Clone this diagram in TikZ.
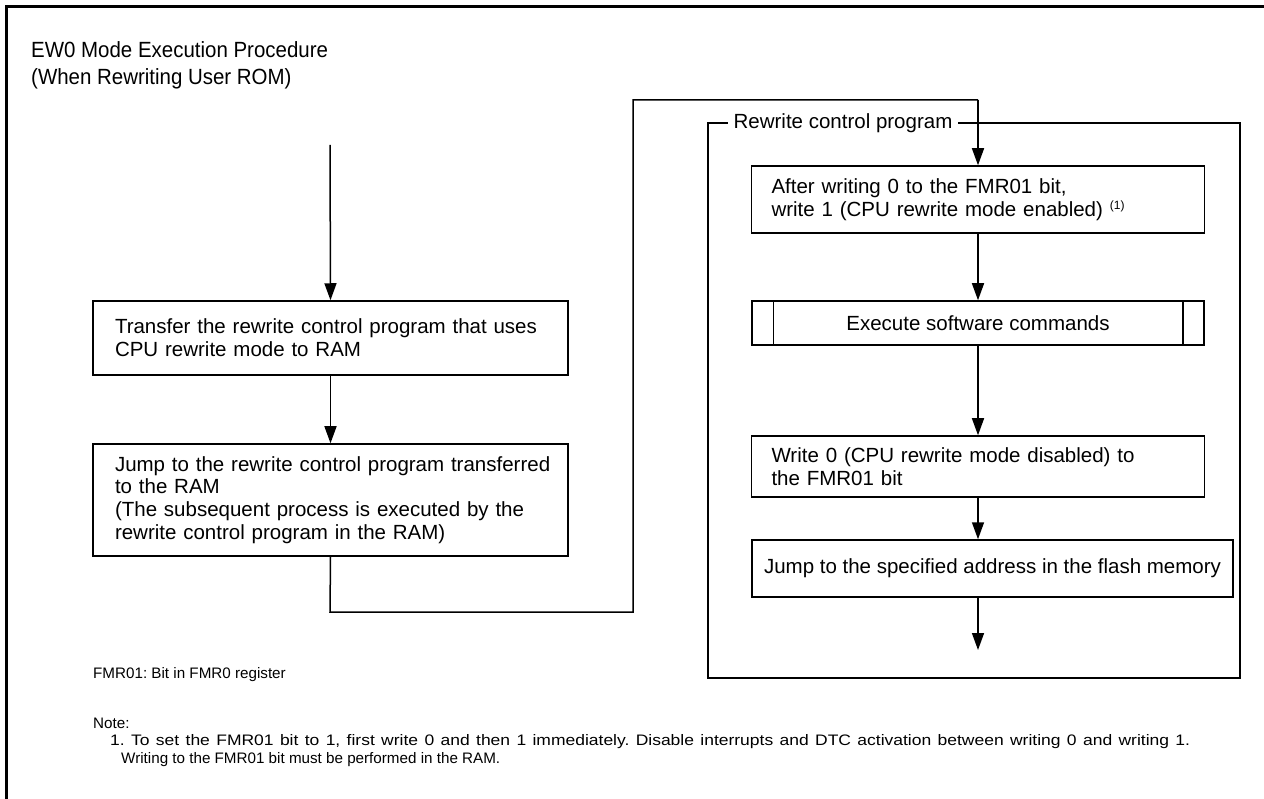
\documentclass[tikz,border=0pt]{standalone}
\usepackage{fontspec}
\setmainfont{Liberation Sans}
\newfontfamily\titlefont[FakeStretch=0.93]{Liberation Sans}
\newfontfamily\widenote[FakeStretch=1.15]{Liberation Sans}
\usetikzlibrary{arrows.meta}
\begin{document}
\frenchspacing
\begin{tikzpicture}[x=1pt,y=-1pt,
  box/.style={draw, line width=1.5pt, inner xsep=0pt, inner ysep=0pt, font=\fontsize{20.5}{22.7}\selectfont},
  arr/.style={line width=1.5pt, -{Triangle[width=12pt,length=17pt]}},
  ln/.style={line width=1.5pt},
  note/.style={anchor=west, inner sep=0pt, font=\fontsize{15.2}{18}\selectfont}]
\useasboundingbox (0,0) rectangle (1264,799);
% outer frame
\draw[line width=3pt] (6.5,799) -- (6.5,6.5) -- (1264,6.5);
% title
\node[anchor=west, align=left, inner sep=0pt, font=\titlefont\fontsize{22}{27}\selectfont] (title) at (31,65.5)
  {EW0 Mode Execution Procedure\\(When Rewriting User ROM)};
% right frame
\draw[ln] (708,123) rectangle (1240,678);
\node[fill=white, inner xsep=6pt, inner ysep=2pt, font=\fontsize{20.5}{22.7}\selectfont] (lbl) at (843,123) {Rewrite control program};
% left column
\node[box, minimum width=475pt, minimum height=74pt, text width=431pt, align=left] (b1) at (330.5,338)
  {Transfer the rewrite control program that uses\\CPU rewrite mode to RAM};
\node[box, minimum width=475pt, minimum height=112pt, text width=431pt, align=left] (b2) at (330.5,500)
  {\mbox{Jump to the rewrite control program transferred}\\to the RAM\\(The subsequent process is executed by the\\rewrite control program in the RAM)};
% right column
\node[box, minimum width=453pt, minimum height=67pt, text width=413pt, align=left] (r1) at (978,199.5)
  {After writing 0 to the FMR01 bit,\\write 1 (CPU rewrite mode enabled) \raisebox{0.6ex}{\fontsize{12}{12}\selectfont(1)}};
\node[box, minimum width=452pt, minimum height=44pt, align=center] (r2) at (978,323) {Execute software commands};
\draw[ln] ([xshift=22pt]r2.north west) -- ([xshift=22pt]r2.south west);
\draw[ln] ([xshift=-22pt]r2.north east) -- ([xshift=-22pt]r2.south east);
\node[box, minimum width=453pt, minimum height=61pt, text width=413pt, align=left] (r3) at (978,466.5)
  {Write 0 (CPU rewrite mode disabled) to\\the FMR01 bit};
\node[box, minimum width=481pt, minimum height=57pt, align=center] (r4) at (992.5,568.5)
  {Jump to the specified address in the flash memory};
% connectors
\coordinate (s) at (330,145);
\coordinate (c0) at (330,612);
\coordinate (c1) at (633,612);
\coordinate (c2) at (633,100);
\coordinate (c3) at (978,100);
\coordinate (e) at (978,650);
\draw[arr] (s) -- (b1.north);
\draw[arr] (b1.south) -- (b2.north);
\draw[ln] (b2.south) -- (c0) -- (c1) -- (c2) -- (c3);
\draw[arr] (c3) -- (r1.north);
\draw[arr] (r1.south) -- (r2.north);
\draw[arr] (r2.south) -- (r3.north);
\draw[arr] (r3.south) -- (r4.north -| r3.south);
\draw[arr] (r4.south -| r3.south) -- (e);
% notes
\node[note] (n1) at (93,675) {FMR01: Bit in FMR0 register};
\node[note] (n2) at (93,723) {Note:};
\node[note] (n3) at (110,742) {\widenote\fontsize{15.2}{18}\selectfont\makebox[1080pt][s]{1. To set the FMR01 bit to 1, first write 0 and then 1 immediately. Disable interrupts and DTC activation between writing 0 and writing 1.}};
\node[note] (n4) at (121,760) {Writing to the FMR01 bit must be performed in the RAM.};
\end{tikzpicture}
\end{document}
